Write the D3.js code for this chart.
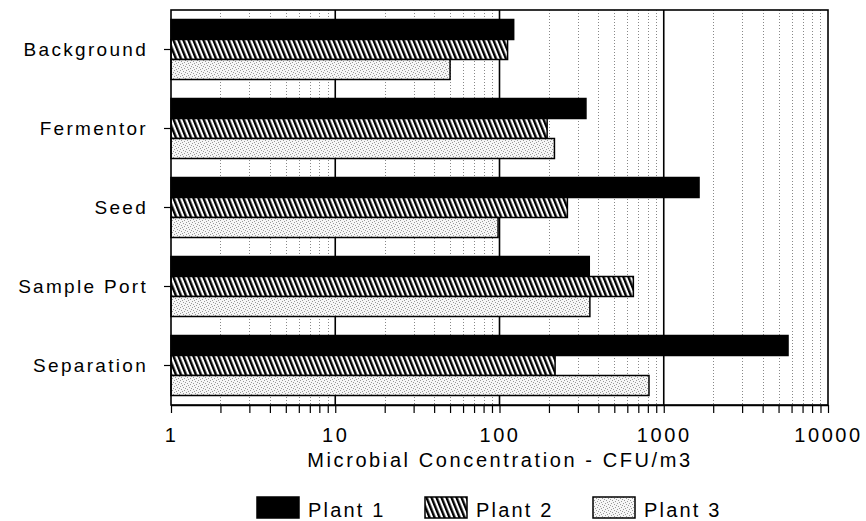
<!DOCTYPE html>
<html>
<head>
<meta charset="utf-8">
<script src="https://cdn.jsdelivr.net/npm/d3@7"></script>
<style>
    body { margin: 0; background: #fff; }
    text { font-family: "Liberation Sans", Arial, sans-serif; fill: #000; }
</style>
</head>
<body>
<svg width="866" height="521"></svg>
<script>
const width = 866;
const height = 521;

const margin = {
    top: 10, bottom: 116, left: 171, right: 38,
};

// chart values
const categories = ["Background", "Fermentor", "Seed", "Sample Port", "Separation"];
const seriesNames = ["Plant 1", "Plant 2", "Plant 3"];
const plant1 = [122, 336, 1640, 352, 5710];
const plant2 = [112, 195, 259, 653, 218];
const plant3 = [50, 216, 98, 355, 813];
const xTickLabels = [1, 10, 100, 1000, 10000];
const xTitle = "Microbial Concentration - CFU/m3";

const series = [plant1, plant2, plant3];

const svg = d3.select("svg");
const defs = svg.append("defs");

// steep hatch pattern for Plant 2
const hatch = defs.append("pattern")
    .attr("id", "hatch")
    .attr("patternUnits", "userSpaceOnUse")
    .attr("width", 5)
    .attr("height", 10)
    .attr("patternTransform", "skewX(22)");
hatch.append("rect").attr("width", 5).attr("height", 10).attr("fill", "#fff");
hatch.append("rect").attr("x", 0).attr("width", 2.6).attr("height", 10).attr("fill", "#000");

// stipple pattern for Plant 3
const dots = defs.append("pattern")
    .attr("id", "dots")
    .attr("patternUnits", "userSpaceOnUse")
    .attr("width", 6)
    .attr("height", 6);
dots.append("rect").attr("width", 6).attr("height", 6).attr("fill", "#f6f6f6");
[[0, 0], [3, 1], [1, 3], [4, 4], [5, 2], [2, 5]].forEach(function (p) {
    dots.append("rect")
        .attr("x", p[0]).attr("y", p[1])
        .attr("width", 1).attr("height", 1)
        .attr("fill", "#999");
});

const fills = ["#000", "url(#hatch)", "url(#dots)"];

const x = d3.scaleLog()
    .domain([1, 10000])
    .range([margin.left, width - margin.right]);

const y = d3.scaleBand()
    .domain(categories)
    .range([margin.top, height - margin.bottom]);

const ySub = d3.scaleBand()
    .domain(seriesNames)
    .range([0, y.bandwidth()])
    .paddingOuter(0.475);

const plotBottom = height - margin.bottom;
const allTicks = x.ticks();

// grid lines: dotted for minor, solid for decades
svg.append("g")
    .selectAll("line")
    .data(allTicks.filter(d => !xTickLabels.includes(d)))
    .enter()
    .append("line")
    .attr("x1", d => Math.round(x(d)) + 0.5)
    .attr("x2", d => Math.round(x(d)) + 0.5)
    .attr("y1", margin.top)
    .attr("y2", plotBottom)
    .attr("stroke", "#888")
    .attr("stroke-width", 1)
    .attr("stroke-dasharray", "1,2");

svg.append("g")
    .selectAll("line")
    .data([10, 100, 1000])
    .enter()
    .append("line")
    .attr("x1", d => x(d))
    .attr("x2", d => x(d))
    .attr("y1", margin.top)
    .attr("y2", plotBottom)
    .attr("stroke", "#000")
    .attr("stroke-width", 1.6);

// bars
const groups = svg.append("g")
    .selectAll("g")
    .data(categories)
    .enter()
    .append("g")
    .attr("transform", d => "translate(0," + y(d) + ")");

groups.selectAll("rect")
    .data((d, i) => series.map((s, k) => ({name: seriesNames[k], value: s[i], k: k})))
    .enter()
    .append("rect")
    .attr("x", x(1))
    .attr("y", d => ySub(d.name))
    .attr("width", d => x(d.value) - x(1))
    .attr("height", ySub.bandwidth())
    .attr("fill", d => fills[d.k])
    .attr("stroke", "#000")
    .attr("stroke-width", 1.5);

// plot frame
svg.append("rect")
    .attr("x", x(1))
    .attr("y", margin.top)
    .attr("width", x(10000) - x(1))
    .attr("height", plotBottom - margin.top)
    .attr("fill", "none")
    .attr("stroke", "#000")
    .attr("stroke-width", 1.6);

// x axis
const xAxis = svg.append("g")
    .attr("transform", "translate(0," + plotBottom + ")")
    .call(d3.axisBottom(x)
        .tickValues(allTicks)
        .tickSize(8)
        .tickSizeOuter(0)
        .tickPadding(15)
        .tickFormat(d => xTickLabels.includes(d) ? d : ""));
xAxis.select(".domain").attr("stroke-width", 1.6);
xAxis.selectAll(".tick line").attr("stroke-width", 1.2);
xAxis.selectAll("text")
    .attr("font-size", 20)
    .attr("font-family", null)
    .style("letter-spacing", "2.6px");

// y axis
const yAxis = svg.append("g")
    .attr("transform", "translate(" + margin.left + ",0)")
    .call(d3.axisLeft(y).tickSize(7).tickPadding(16));
yAxis.select(".domain").remove();
yAxis.selectAll(".tick line").attr("stroke-width", 1.2);
yAxis.selectAll("text")
    .attr("font-size", 19)
    .attr("font-family", null)
    .style("letter-spacing", "2.3px");

// axis title
svg.append("text")
    .attr("x", 500)
    .attr("y", 467)
    .attr("text-anchor", "middle")
    .attr("font-size", 20)
    .style("letter-spacing", "2.6px")
    .text(xTitle);

// legend
const legend = svg.append("g")
    .selectAll("g")
    .data(seriesNames)
    .enter()
    .append("g")
    .attr("transform", (d, i) => "translate(" + (257 + i * 168) + ",497)");

legend.append("rect")
    .attr("width", 42)
    .attr("height", 21)
    .attr("fill", (d, i) => fills[i])
    .attr("stroke", "#000")
    .attr("stroke-width", 1.5);

legend.append("text")
    .attr("x", 51)
    .attr("y", 20)
    .attr("font-size", 20)
    .style("letter-spacing", "2.2px")
    .text(d => d);
</script>
</body>
</html>
